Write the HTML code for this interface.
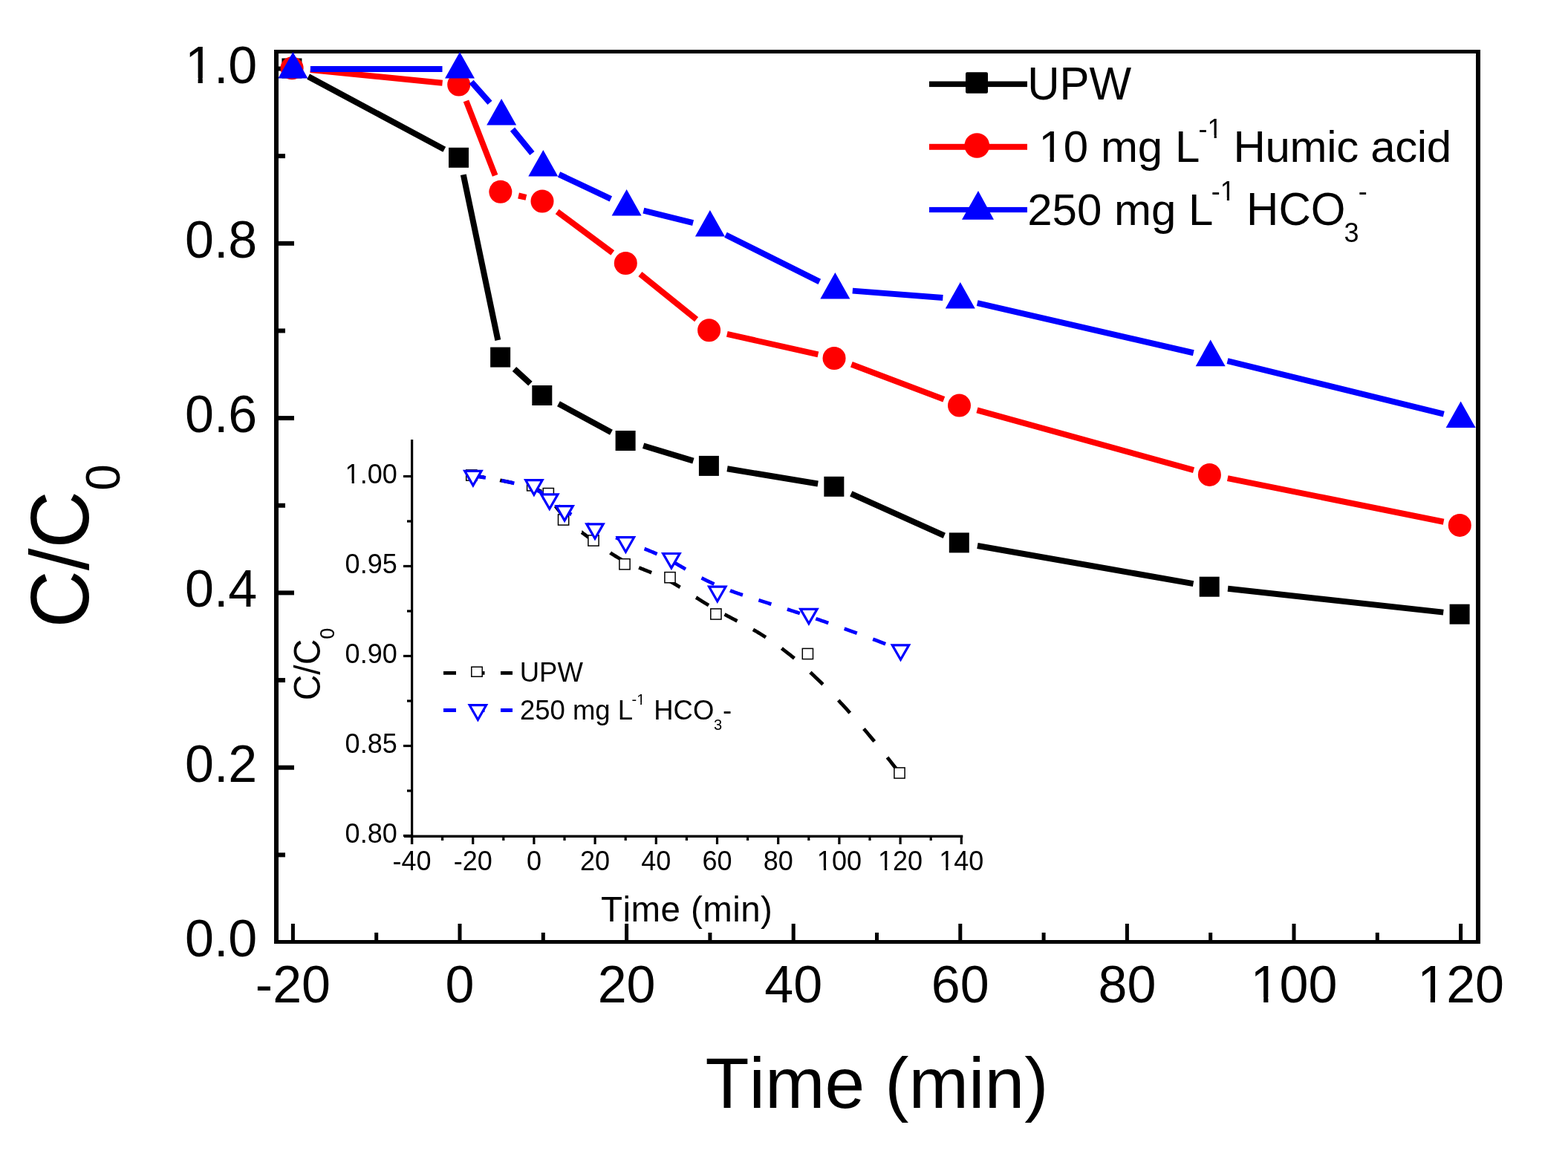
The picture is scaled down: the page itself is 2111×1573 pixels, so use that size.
<!DOCTYPE html>
<html><head><meta charset="utf-8"><title>C/C0 vs Time</title>
<style>html,body{margin:0;padding:0;background:#fff;}svg{display:block;}text{font-family:"Liberation Sans", Arial, sans-serif;fill:#000;font-kerning:none;font-feature-settings:"kern" 0;}</style>
</head><body>
<svg width="2111" height="1573" viewBox="0 0 2111 1573">
<rect width="2111" height="1573" fill="#fff"/>
<rect x="369" y="67" width="1624" height="5" fill="#000"/>
<rect x="369" y="1266" width="1624" height="5" fill="#000"/>
<rect x="369" y="67" width="6" height="1204" fill="#000"/>
<rect x="1987" y="67" width="6" height="1204" fill="#000"/>
<rect x="391.90" y="1244" width="5" height="22" fill="#000"/>
<text transform="translate(394.40,1349.50)" font-size="70.00" text-anchor="middle">-20</text>
<rect x="504.20" y="1256" width="5" height="10" fill="#000"/>
<rect x="616.50" y="1244" width="5" height="22" fill="#000"/>
<text transform="translate(619.00,1349.50)" font-size="70.00" text-anchor="middle">0</text>
<rect x="728.80" y="1256" width="5" height="10" fill="#000"/>
<rect x="841.10" y="1244" width="5" height="22" fill="#000"/>
<text transform="translate(843.60,1349.50)" font-size="70.00" text-anchor="middle">20</text>
<rect x="953.40" y="1256" width="5" height="10" fill="#000"/>
<rect x="1065.70" y="1244" width="5" height="22" fill="#000"/>
<text transform="translate(1068.20,1349.50)" font-size="70.00" text-anchor="middle">40</text>
<rect x="1178.00" y="1256" width="5" height="10" fill="#000"/>
<rect x="1290.30" y="1244" width="5" height="22" fill="#000"/>
<text transform="translate(1292.80,1349.50)" font-size="70.00" text-anchor="middle">60</text>
<rect x="1402.60" y="1256" width="5" height="10" fill="#000"/>
<rect x="1514.90" y="1244" width="5" height="22" fill="#000"/>
<text transform="translate(1517.40,1349.50)" font-size="70.00" text-anchor="middle">80</text>
<rect x="1627.20" y="1256" width="5" height="10" fill="#000"/>
<rect x="1739.50" y="1244" width="5" height="22" fill="#000"/>
<text transform="translate(1742.00,1349.50)" font-size="70.00" text-anchor="middle">100</text>
<rect x="1687.39" y="1343.07" width="13.82" height="7.43" fill="#fff"/>
<rect x="1707.39" y="1343.07" width="13.27" height="7.43" fill="#fff"/>
<rect x="1851.80" y="1256" width="5" height="10" fill="#000"/>
<rect x="1964.10" y="1244" width="5" height="22" fill="#000"/>
<text transform="translate(1966.60,1349.50)" font-size="70.00" text-anchor="middle">120</text>
<rect x="1911.99" y="1343.07" width="13.82" height="7.43" fill="#fff"/>
<rect x="1931.99" y="1343.07" width="13.27" height="7.43" fill="#fff"/>
<text transform="translate(346.30,1288.00)" font-size="70.00" text-anchor="end">0.0</text>
<rect x="375" y="1148.35" width="9" height="6" fill="#000"/>
<rect x="375" y="1030.70" width="21" height="6" fill="#000"/>
<text transform="translate(346.30,1052.70)" font-size="70.00" text-anchor="end">0.2</text>
<rect x="375" y="913.05" width="9" height="6" fill="#000"/>
<rect x="375" y="795.40" width="21" height="6" fill="#000"/>
<text transform="translate(346.30,817.40)" font-size="70.00" text-anchor="end">0.4</text>
<rect x="375" y="677.75" width="9" height="6" fill="#000"/>
<rect x="375" y="560.10" width="21" height="6" fill="#000"/>
<text transform="translate(346.30,582.10)" font-size="70.00" text-anchor="end">0.6</text>
<rect x="375" y="442.45" width="9" height="6" fill="#000"/>
<rect x="375" y="324.80" width="21" height="6" fill="#000"/>
<text transform="translate(346.30,346.80)" font-size="70.00" text-anchor="end">0.8</text>
<rect x="375" y="207.15" width="9" height="6" fill="#000"/>
<rect x="375" y="89.50" width="21" height="6" fill="#000"/>
<text transform="translate(346.30,111.50)" font-size="70.00" text-anchor="end">1.0</text>
<rect x="252.78" y="105.07" width="13.82" height="7.43" fill="#fff"/>
<rect x="272.78" y="105.07" width="13.27" height="7.43" fill="#fff"/>
<text transform="translate(949.50,1492.00)" font-size="96.70">Time (min)</text>
<text transform="translate(118.50,845.60) rotate(-90) scale(0.9606,1)" font-size="111.39">C/C</text>
<text transform="translate(161.10,660.80) rotate(-90)" font-size="64.00">0</text>
<path d="M415.12 103.10L598.28 201.20M623.81 235.30L670.34 458.10M692.48 496.97L713.97 516.63M751.95 543.72L822.95 582.28M866.10 600.29L933.40 620.61M979.08 631.24L1101.17 651.46M1145.79 664.92L1271.36 721.28M1315.94 734.97L1606.56 786.13M1653.06 792.77L1943.24 824.63" stroke="#000" stroke-width="8" fill="none"/>
<rect x="379.40" y="78.50" width="27" height="27" fill="#000"/>
<rect x="604.00" y="198.80" width="27" height="27" fill="#000"/>
<rect x="660.15" y="467.60" width="27" height="27" fill="#000"/>
<rect x="716.30" y="519.00" width="27" height="27" fill="#000"/>
<rect x="828.60" y="580.00" width="27" height="27" fill="#000"/>
<rect x="940.90" y="613.90" width="27" height="27" fill="#000"/>
<rect x="1109.35" y="641.80" width="27" height="27" fill="#000"/>
<rect x="1277.80" y="717.40" width="27" height="27" fill="#000"/>
<rect x="1614.70" y="776.70" width="27" height="27" fill="#000"/>
<rect x="1951.60" y="813.70" width="27" height="27" fill="#000"/>
<path d="M417.79 94.11L595.61 111.69M627.52 135.90L666.63 236.40M698.07 263.48L708.38 265.82M750.16 285.02L824.74 340.48M861.91 369.23L937.59 430.07M978.83 449.93L1101.42 477.37M1146.34 490.80L1270.81 537.80M1315.45 552.37L1607.05 633.13M1652.74 644.05L1943.56 702.75" stroke="#f00" stroke-width="8" fill="none"/>
<circle cx="393.10" cy="91.80" r="15.5" fill="#f00"/>
<circle cx="617.70" cy="114.00" r="15.5" fill="#f00"/>
<circle cx="673.85" cy="258.30" r="15.5" fill="#f00"/>
<circle cx="730.00" cy="271.00" r="15.5" fill="#f00"/>
<circle cx="842.30" cy="354.50" r="15.5" fill="#f00"/>
<circle cx="954.60" cy="444.80" r="15.5" fill="#f00"/>
<circle cx="1123.05" cy="482.50" r="15.5" fill="#f00"/>
<circle cx="1291.50" cy="546.10" r="15.5" fill="#f00"/>
<circle cx="1628.40" cy="639.40" r="15.5" fill="#f00"/>
<circle cx="1965.30" cy="707.40" r="15.5" fill="#f00"/>
<path d="M417.90 92.90L595.50 92.90M634.64 110.44L659.51 138.36M690.00 174.12L716.45 206.58M752.54 234.85L822.36 267.85M866.41 283.57L933.09 300.13M976.93 316.29L1103.32 379.31M1147.78 391.62L1269.37 401.08M1315.70 408.17L1606.80 475.23M1652.52 486.11L1943.78 557.69" stroke="#00f" stroke-width="8" fill="none"/>
<path d="M394.40 70.00L414.40 105.60L374.40 105.60Z" fill="#00f"/>
<path d="M619.00 70.00L639.00 105.60L599.00 105.60Z" fill="#00f"/>
<path d="M675.15 133.00L695.15 168.60L655.15 168.60Z" fill="#00f"/>
<path d="M731.30 201.90L751.30 237.50L711.30 237.50Z" fill="#00f"/>
<path d="M843.60 255.00L863.60 290.60L823.60 290.60Z" fill="#00f"/>
<path d="M955.90 282.90L975.90 318.50L935.90 318.50Z" fill="#00f"/>
<path d="M1124.35 366.90L1144.35 402.50L1104.35 402.50Z" fill="#00f"/>
<path d="M1292.80 380.00L1312.80 415.60L1272.80 415.60Z" fill="#00f"/>
<path d="M1629.70 457.60L1649.70 493.20L1609.70 493.20Z" fill="#00f"/>
<path d="M1966.60 540.40L1986.60 576.00L1946.60 576.00Z" fill="#00f"/>
<rect x="1251" y="109.50" width="132" height="7.6" fill="#000"/>
<rect x="1300" y="97.2" width="30" height="28.6" rx="2" fill="#000"/>
<rect x="1251" y="193.80" width="132" height="8" fill="#f00"/>
<circle cx="1315.30" cy="196.00" r="16.8" fill="#f00"/>
<rect x="1251" y="278.90" width="132" height="7.2" fill="#00f"/>
<path d="M1317 257L1338 295.8L1295 295.8Z" fill="#00f"/>
<text transform="translate(1383.20,134.00) scale(0.9662,1)" font-size="62.10">UPW</text>
<text transform="translate(1381.80,218.00)" font-size="60.00">&#160;10 mg L</text>
<rect x="1401.57" y="212.32" width="11.99" height="6.68" fill="#fff"/>
<rect x="1418.86" y="212.32" width="11.52" height="6.68" fill="#fff"/>
<text transform="translate(1613.60,186.00)" font-size="36.00">-1</text>
<rect x="1627.05" y="182.11" width="7.59" height="4.89" fill="#fff"/>
<rect x="1637.82" y="182.11" width="7.31" height="4.89" fill="#fff"/>
<text transform="translate(1644.30,218.00)" font-size="60.00" letter-spacing="-0.36">&#160;Humic acid</text>
<text transform="translate(1383.20,303.00)" font-size="60.00">250 mg L</text>
<text transform="translate(1630.80,270.00)" font-size="36.00">-1</text>
<rect x="1644.25" y="266.11" width="7.59" height="4.89" fill="#fff"/>
<rect x="1655.02" y="266.11" width="7.31" height="4.89" fill="#fff"/>
<text transform="translate(1661.40,303.00) scale(0.9662,1)" font-size="62.10">&#160;HCO</text>
<text transform="translate(1809.40,325.50)" font-size="36.00">3</text>
<text transform="translate(1828.70,270.00)" font-size="36.00">-</text>
<rect x="553" y="592" width="3.2" height="545" fill="#000"/>
<rect x="544" y="1124.6" width="752.3" height="3.4" fill="#000"/>
<rect x="552.90" y="1128" width="3.2" height="9" fill="#000"/>
<text transform="translate(554.50,1171.60)" font-size="36.00" text-anchor="middle">-40</text>
<rect x="594.00" y="1128" width="3.2" height="4" fill="#000"/>
<rect x="635.10" y="1128" width="3.2" height="9" fill="#000"/>
<text transform="translate(636.70,1171.60)" font-size="36.00" text-anchor="middle">-20</text>
<rect x="676.20" y="1128" width="3.2" height="4" fill="#000"/>
<rect x="717.30" y="1128" width="3.2" height="9" fill="#000"/>
<text transform="translate(718.90,1171.60)" font-size="36.00" text-anchor="middle">0</text>
<rect x="758.40" y="1128" width="3.2" height="4" fill="#000"/>
<rect x="799.50" y="1128" width="3.2" height="9" fill="#000"/>
<text transform="translate(801.10,1171.60)" font-size="36.00" text-anchor="middle">20</text>
<rect x="840.60" y="1128" width="3.2" height="4" fill="#000"/>
<rect x="881.70" y="1128" width="3.2" height="9" fill="#000"/>
<text transform="translate(883.30,1171.60)" font-size="36.00" text-anchor="middle">40</text>
<rect x="922.80" y="1128" width="3.2" height="4" fill="#000"/>
<rect x="963.90" y="1128" width="3.2" height="9" fill="#000"/>
<text transform="translate(965.50,1171.60)" font-size="36.00" text-anchor="middle">60</text>
<rect x="1005.00" y="1128" width="3.2" height="4" fill="#000"/>
<rect x="1046.10" y="1128" width="3.2" height="9" fill="#000"/>
<text transform="translate(1047.70,1171.60)" font-size="36.00" text-anchor="middle">80</text>
<rect x="1087.20" y="1128" width="3.2" height="4" fill="#000"/>
<rect x="1128.30" y="1128" width="3.2" height="9" fill="#000"/>
<text transform="translate(1129.90,1171.60)" font-size="36.00" text-anchor="middle">100</text>
<rect x="1101.33" y="1167.71" width="7.59" height="4.89" fill="#fff"/>
<rect x="1112.10" y="1167.71" width="7.31" height="4.89" fill="#fff"/>
<rect x="1169.40" y="1128" width="3.2" height="4" fill="#000"/>
<rect x="1210.50" y="1128" width="3.2" height="9" fill="#000"/>
<text transform="translate(1212.10,1171.60)" font-size="36.00" text-anchor="middle">120</text>
<rect x="1183.53" y="1167.71" width="7.59" height="4.89" fill="#fff"/>
<rect x="1194.30" y="1167.71" width="7.31" height="4.89" fill="#fff"/>
<rect x="1251.60" y="1128" width="3.2" height="4" fill="#000"/>
<rect x="1292.70" y="1128" width="3.2" height="9" fill="#000"/>
<text transform="translate(1294.30,1171.60)" font-size="36.00" text-anchor="middle">140</text>
<rect x="1265.73" y="1167.71" width="7.59" height="4.89" fill="#fff"/>
<rect x="1276.50" y="1167.71" width="7.31" height="4.89" fill="#fff"/>
<rect x="543" y="1123.90" width="10" height="3.2" fill="#000"/>
<text transform="translate(534.70,1135.00)" font-size="36.00" text-anchor="end">0.80</text>
<rect x="548" y="1063.40" width="5" height="3.2" fill="#000"/>
<rect x="543" y="1002.90" width="10" height="3.2" fill="#000"/>
<text transform="translate(534.70,1014.00)" font-size="36.00" text-anchor="end">0.85</text>
<rect x="548" y="942.40" width="5" height="3.2" fill="#000"/>
<rect x="543" y="881.90" width="10" height="3.2" fill="#000"/>
<text transform="translate(534.70,893.00)" font-size="36.00" text-anchor="end">0.90</text>
<rect x="548" y="821.40" width="5" height="3.2" fill="#000"/>
<rect x="543" y="760.90" width="10" height="3.2" fill="#000"/>
<text transform="translate(534.70,772.00)" font-size="36.00" text-anchor="end">0.95</text>
<rect x="548" y="700.40" width="5" height="3.2" fill="#000"/>
<rect x="543" y="639.90" width="10" height="3.2" fill="#000"/>
<text transform="translate(534.70,651.00)" font-size="36.00" text-anchor="end">1.00</text>
<rect x="466.09" y="647.11" width="7.59" height="4.89" fill="#fff"/>
<rect x="476.87" y="647.11" width="7.31" height="4.89" fill="#fff"/>
<text transform="translate(809.10,1240.70)" font-size="47.50" letter-spacing="0.42">Time (min)</text>
<text transform="translate(431.30,943.30) rotate(-90) scale(0.9709,1)" font-size="49.44">C/C</text>
<text transform="translate(449.50,860.80) rotate(-90)" font-size="27.00">0</text>
<path d="M634.80 640.00L635.09 640.05L637.36 640.43L639.59 640.81L641.79 641.19L643.95 641.56L646.07 641.92L648.16 642.29L650.22 642.65L651.80 642.92M673.25 646.84L673.28 646.85L674.89 647.16L676.47 647.46L678.01 647.77L679.54 648.07L681.03 648.36L682.49 648.66L683.92 648.95L685.33 649.23L686.71 649.52L688.06 649.80L689.38 650.08L690.25 650.27M711.70 655.48L711.70 655.48L712.51 655.72L713.30 655.95L714.06 656.18L714.81 656.41L715.55 656.64L716.26 656.87L716.95 657.09L717.63 657.32L718.29 657.54L718.94 657.77L719.57 657.99L720.18 658.21L720.78 658.43L721.36 658.65L721.93 658.87L722.48 659.09L723.02 659.31L723.54 659.53L724.05 659.74L724.55 659.96L725.04 660.18L725.51 660.39L725.97 660.61L726.42 660.83L726.85 661.04L727.28 661.26L727.69 661.48L728.10 661.69L728.49 661.91L728.70 662.03M747.95 681.66L747.97 681.70L748.20 682.00L748.43 682.29L748.65 682.59L748.88 682.89L749.11 683.19L749.34 683.49L749.56 683.80L749.79 684.10L750.02 684.40L750.25 684.70L750.48 685.00L750.71 685.31L750.95 685.61L751.18 685.91L751.41 686.22L751.64 686.52L751.88 686.83L752.11 687.13L752.35 687.44L752.59 687.74L752.82 688.05L753.06 688.35L753.30 688.66L753.54 688.96L753.78 689.27L754.02 689.57L754.27 689.88L754.51 690.18L754.75 690.49L755.00 690.79L755.25 691.10L755.49 691.40L755.74 691.71L755.99 692.01L756.24 692.32L756.50 692.62L756.75 692.93L757.00 693.23L757.26 693.54L757.52 693.84L757.78 694.14L758.04 694.45L758.30 694.75L758.56 695.05L758.83 695.35L759.09 695.66L759.36 695.96L759.63 696.26L759.90 696.56L760.17 696.86L760.44 697.16L760.72 697.46L760.99 697.75L761.27 698.05L761.55 698.35L761.83 698.65L761.85 698.66M783.26 716.97L783.27 716.97L783.63 717.25L784.00 717.52L784.37 717.79L784.73 718.07L785.10 718.34L785.47 718.61L785.84 718.89L786.21 719.16L786.58 719.43L786.96 719.71L787.33 719.98L787.70 720.25L788.07 720.53L788.45 720.80L788.82 721.07L789.20 721.35L789.57 721.62L789.95 721.89L790.33 722.17L790.71 722.44L791.08 722.71L791.46 722.99L791.84 723.26L792.22 723.54L792.60 723.81L792.98 724.09L793.36 724.36L793.74 724.64L794.12 724.91L794.50 725.19L794.88 725.46L795.27 725.74L795.65 726.02L796.03 726.29L796.42 726.57L796.80 726.85L797.18 727.12L797.57 727.40L797.95 727.68L798.33 727.96L798.72 728.24L799.10 728.51L799.49 728.79L799.87 729.07L800.26 729.35L800.26 729.36M821.71 744.54L821.72 744.55L822.14 744.82L822.55 745.10L822.97 745.37L823.39 745.65L823.81 745.92L824.23 746.19L824.65 746.46L825.07 746.73L825.50 747.00L825.92 747.27L826.35 747.54L826.78 747.81L827.20 748.08L827.63 748.34L828.06 748.61L828.49 748.87L828.93 749.14L829.36 749.40L829.80 749.67L830.23 749.93L830.67 750.19L831.11 750.45L831.55 750.71L831.99 750.97L832.43 751.23L832.88 751.49L833.32 751.74L833.77 752.00L834.22 752.25L834.66 752.51L835.12 752.76L835.57 753.01L836.02 753.27L836.47 753.52L836.93 753.77L837.39 754.01L837.85 754.26L838.31 754.51L838.71 754.72M860.16 764.42L860.21 764.44L860.74 764.66L861.27 764.87L861.79 765.08L862.32 765.29L862.86 765.51L863.39 765.72L863.92 765.93L864.46 766.14L864.99 766.36L865.53 766.57L866.06 766.78L866.60 767.00L867.14 767.21L867.68 767.43L868.22 767.64L868.77 767.86L869.31 768.07L869.86 768.29L870.40 768.51L870.95 768.73L871.49 768.95L872.04 769.17L872.59 769.39L873.14 769.61L873.69 769.83L874.24 770.05L874.79 770.28L875.35 770.50L875.90 770.73L876.46 770.95L877.01 771.18L877.16 771.24M898.61 781.05L898.66 781.07L899.23 781.37L899.81 781.67L900.38 781.98L900.95 782.28L901.53 782.59L902.10 782.91L902.67 783.22L903.25 783.54L903.82 783.86L904.39 784.18L904.97 784.51L905.54 784.83L906.12 785.17L906.70 785.50L907.28 785.84L907.85 786.18L908.43 786.52L909.01 786.86L909.60 787.21L910.18 787.56L910.77 787.91L911.35 788.27L911.94 788.63L912.53 788.99L913.12 789.35L913.72 789.72L914.31 790.09L914.91 790.46L915.51 790.84L915.61 790.90M937.06 804.62L937.15 804.67L937.88 805.14L938.62 805.61L939.37 806.08L940.12 806.56L940.88 807.04L941.65 807.52L942.42 808.00L943.20 808.49L943.98 808.97L944.77 809.47L945.57 809.96L946.38 810.46L947.19 810.96L948.00 811.46L948.83 811.96L949.66 812.47L950.50 812.98L951.35 813.49L952.20 814.01L953.06 814.53L953.93 815.05L954.06 815.13M975.51 827.38L975.59 827.42L976.66 828.00L977.75 828.59L978.84 829.18L979.95 829.77L981.07 830.37L982.19 830.97L983.33 831.57L984.48 832.17L985.64 832.78L986.81 833.38L987.99 834.00L989.18 834.62L990.39 835.24L991.60 835.87L992.51 836.34M1013.96 847.89L1014.08 847.96L1015.54 848.80L1017.02 849.66L1018.51 850.53L1020.01 851.43L1021.54 852.34L1023.08 853.27L1024.63 854.23L1026.21 855.20L1027.80 856.20L1029.40 857.22L1030.96 858.22M1052.41 873.19L1052.42 873.20L1054.29 874.61L1056.18 876.05L1058.10 877.53L1060.03 879.04L1061.99 880.59L1063.97 882.17L1065.96 883.79L1067.98 885.44L1069.41 886.62M1090.86 905.42L1091.10 905.64L1093.39 907.76L1095.70 909.93L1098.03 912.14L1100.39 914.39L1102.78 916.69L1105.19 919.04L1107.62 921.44L1107.86 921.68M1128.71 943.11L1129.01 943.44L1131.69 946.31L1134.40 949.23L1137.13 952.21L1139.89 955.24L1142.68 958.33L1144.28 960.11M1163.01 981.56L1163.36 981.98L1166.38 985.54L1169.43 989.17L1172.51 992.85L1175.62 996.60L1177.24 998.56M1194.59 1020.01L1194.92 1020.43L1198.25 1024.63L1201.60 1028.90L1204.99 1033.24L1207.92 1037.01" stroke="#000" stroke-width="4.8" fill="none"/>
<rect x="627.70" y="632.90" width="14.2" height="14.2" fill="#fff" stroke="#000" stroke-width="1.5"/>
<rect x="709.60" y="646.70" width="14.2" height="14.2" fill="#fff" stroke="#000" stroke-width="1.5"/>
<rect x="731.20" y="657.50" width="14.2" height="14.2" fill="#fff" stroke="#000" stroke-width="1.5"/>
<rect x="751.50" y="692.90" width="14.2" height="14.2" fill="#fff" stroke="#000" stroke-width="1.5"/>
<rect x="791.90" y="720.90" width="14.2" height="14.2" fill="#fff" stroke="#000" stroke-width="1.5"/>
<rect x="833.90" y="752.70" width="14.2" height="14.2" fill="#fff" stroke="#000" stroke-width="1.5"/>
<rect x="894.90" y="770.60" width="14.2" height="14.2" fill="#fff" stroke="#000" stroke-width="1.5"/>
<rect x="956.80" y="819.90" width="14.2" height="14.2" fill="#fff" stroke="#000" stroke-width="1.5"/>
<rect x="1080.30" y="873.40" width="14.2" height="14.2" fill="#fff" stroke="#000" stroke-width="1.5"/>
<rect x="1203.90" y="1033.90" width="14.2" height="14.2" fill="#fff" stroke="#000" stroke-width="1.5"/>
<path d="M636.90 640.70L637.19 640.74L639.46 641.09L641.70 641.43L643.89 641.77L646.06 642.11L648.18 642.45L650.27 642.78L652.33 643.12L653.90 643.38M675.35 647.22L675.39 647.23L677.00 647.54L678.58 647.86L680.12 648.17L681.64 648.48L683.13 648.79L684.59 649.10L686.02 649.41L687.43 649.71L688.80 650.02L690.15 650.32L691.47 650.63L692.35 650.83M713.80 656.77L713.80 656.77L714.60 657.04L715.38 657.31L716.14 657.58L716.88 657.85L717.61 658.12L718.31 658.39L719.00 658.65L719.67 658.92L720.32 659.18L720.96 659.44L721.58 659.70L722.19 659.96L722.78 660.22L723.35 660.47L723.91 660.73L724.45 660.98L724.98 661.24L725.50 661.49L726.00 661.74L726.49 661.99L726.97 662.23L727.44 662.48L727.89 662.73L728.33 662.97L728.76 663.21L729.17 663.46L729.58 663.70L729.98 663.94L730.36 664.17L730.74 664.41L730.80 664.45M752.25 681.49L752.27 681.50L752.50 681.68L752.74 681.85L752.97 682.02L753.20 682.19L753.44 682.36L753.67 682.53L753.91 682.70L754.15 682.88L754.38 683.05L754.62 683.22L754.86 683.39L755.10 683.56L755.35 683.74L755.59 683.91L755.83 684.08L756.08 684.25L756.32 684.43L756.57 684.60L756.82 684.77L757.07 684.95L757.32 685.12L757.57 685.30L757.82 685.47L758.07 685.65L758.33 685.82L758.58 686.00L758.84 686.18L759.10 686.35L759.36 686.53L759.62 686.71L759.89 686.89L760.15 687.07L760.42 687.25L760.69 687.43L760.96 687.61L761.23 687.79L761.50 687.97L761.77 688.15L762.05 688.34L762.33 688.52L762.60 688.71L762.89 688.89L763.17 689.08L763.45 689.26L763.74 689.45L764.03 689.64L764.32 689.83L764.61 690.02L764.90 690.21L765.19 690.40L765.49 690.59L765.79 690.78L766.09 690.97L766.39 691.17L766.69 691.36L767.00 691.56L767.30 691.75L767.61 691.95L767.92 692.14L768.23 692.34L768.54 692.54L768.86 692.74L769.17 692.94L769.25 692.98M790.70 705.60L790.72 705.61L791.09 705.82L791.47 706.02L791.85 706.23L792.23 706.44L792.61 706.64L792.98 706.85L793.36 707.05L793.74 707.26L794.13 707.46L794.51 707.67L794.89 707.87L795.27 708.08L795.65 708.28L796.03 708.48L796.41 708.69L796.80 708.89L797.18 709.09L797.56 709.29L797.95 709.49L798.33 709.69L798.71 709.89L799.10 710.09L799.48 710.29L799.86 710.49L800.25 710.69L800.63 710.88L801.01 711.08L801.40 711.28L801.78 711.47L802.17 711.67L802.55 711.86L802.94 712.06L803.32 712.25L803.71 712.44L804.09 712.64L804.47 712.83L804.86 713.02L805.25 713.21L805.63 713.40L806.02 713.59L806.40 713.78L806.79 713.97L807.18 714.16L807.56 714.35L807.70 714.41M829.15 724.04L829.18 724.05L829.60 724.23L830.03 724.41L830.46 724.58L830.89 724.76L831.32 724.94L831.76 725.12L832.19 725.30L832.63 725.47L833.07 725.65L833.50 725.83L833.94 726.01L834.38 726.19L834.83 726.37L835.27 726.55L835.72 726.72L836.16 726.90L836.61 727.08L837.06 727.26L837.51 727.44L837.96 727.62L838.42 727.80L838.87 727.98L839.33 728.16L839.79 728.35L840.25 728.53L840.71 728.71L841.17 728.89L841.64 729.07L842.10 729.25L842.57 729.44L843.04 729.62L843.51 729.80L843.99 729.99L844.46 730.17L844.94 730.35L845.42 730.54L845.90 730.72L846.15 730.82M867.60 739.06L867.63 739.07L868.17 739.28L868.71 739.50L869.26 739.72L869.80 739.93L870.35 740.15L870.89 740.37L871.44 740.59L871.99 740.81L872.54 741.04L873.09 741.26L873.64 741.48L874.19 741.71L874.74 741.94L875.29 742.17L875.85 742.40L876.40 742.63L876.96 742.86L877.51 743.09L878.07 743.33L878.63 743.56L879.19 743.80L879.75 744.04L880.31 744.28L880.87 744.52L881.43 744.77L881.99 745.01L882.56 745.26L883.12 745.50L883.68 745.75L884.25 746.00L884.60 746.16M906.05 756.75L906.08 756.77L906.65 757.08L907.23 757.40L907.81 757.73L908.39 758.05L908.97 758.38L909.55 758.71L910.13 759.03L910.71 759.37L911.29 759.70L911.88 760.03L912.47 760.37L913.05 760.71L913.64 761.05L914.23 761.39L914.83 761.74L915.42 762.08L916.02 762.43L916.62 762.78L917.22 763.13L917.82 763.48L918.43 763.83L919.04 764.19L919.65 764.54L920.26 764.90L920.88 765.26L921.50 765.62L922.12 765.98L922.74 766.35L923.05 766.52M944.50 778.39L944.59 778.43L945.37 778.83L946.15 779.23L946.94 779.63L947.74 780.04L948.55 780.44L949.36 780.84L950.18 781.25L951.01 781.65L951.84 782.06L952.68 782.47L953.53 782.88L954.39 783.28L955.25 783.69L956.12 784.10L957.00 784.51L957.89 784.92L958.78 785.34L959.68 785.75L960.59 786.16L961.50 786.57M982.95 795.35L983.01 795.38L984.14 795.80L985.28 796.22L986.42 796.63L987.58 797.05L988.75 797.47L989.93 797.89L991.12 798.31L992.32 798.74L993.54 799.16L994.76 799.58L996.00 800.01L997.25 800.43L998.51 800.86L999.79 801.29L999.95 801.34M1021.40 808.29L1021.54 808.33L1023.05 808.81L1024.59 809.30L1026.14 809.79L1027.71 810.28L1029.29 810.78L1030.89 811.29L1032.51 811.80L1034.15 812.32L1035.80 812.84L1037.47 813.37L1038.40 813.66M1059.85 820.49L1059.97 820.53L1061.90 821.15L1063.85 821.78L1065.83 822.42L1067.83 823.07L1069.85 823.72L1071.89 824.39L1073.95 825.06L1076.03 825.75L1076.85 826.02M1098.30 833.18L1098.43 833.23L1100.78 834.02L1103.14 834.83L1105.54 835.65L1107.96 836.48L1110.40 837.33L1112.87 838.18L1115.30 839.03M1136.75 846.61L1136.95 846.68L1139.69 847.66L1142.46 848.66L1145.25 849.67L1148.08 850.70L1150.93 851.74L1153.75 852.77M1175.20 860.75L1175.57 860.89L1178.69 862.07L1181.85 863.26L1185.03 864.48L1188.25 865.70L1191.50 866.95L1192.20 867.22" stroke="#00f" stroke-width="4.8" fill="none"/>
<path d="M625.70 634.40L648.10 634.40L636.90 653.90Z" fill="#fff" stroke="#00f" stroke-width="3.2" stroke-linejoin="miter"/>
<path d="M707.70 646.70L730.10 646.70L718.90 666.20Z" fill="#fff" stroke="#00f" stroke-width="3.2" stroke-linejoin="miter"/>
<path d="M728.60 665.80L751.00 665.80L739.80 685.30Z" fill="#fff" stroke="#00f" stroke-width="3.2" stroke-linejoin="miter"/>
<path d="M748.90 681.60L771.30 681.60L760.10 701.10Z" fill="#fff" stroke="#00f" stroke-width="3.2" stroke-linejoin="miter"/>
<path d="M789.80 705.90L812.20 705.90L801.00 725.40Z" fill="#fff" stroke="#00f" stroke-width="3.2" stroke-linejoin="miter"/>
<path d="M831.20 723.70L853.60 723.70L842.40 743.20Z" fill="#fff" stroke="#00f" stroke-width="3.2" stroke-linejoin="miter"/>
<path d="M892.70 745.50L915.10 745.50L903.90 765.00Z" fill="#fff" stroke="#00f" stroke-width="3.2" stroke-linejoin="miter"/>
<path d="M954.60 790.20L977.00 790.20L965.80 809.70Z" fill="#fff" stroke="#00f" stroke-width="3.2" stroke-linejoin="miter"/>
<path d="M1077.70 820.30L1100.10 820.30L1088.90 839.80Z" fill="#fff" stroke="#00f" stroke-width="3.2" stroke-linejoin="miter"/>
<path d="M1201.30 868.80L1223.70 868.80L1212.50 888.30Z" fill="#fff" stroke="#00f" stroke-width="3.2" stroke-linejoin="miter"/>
<path d="M597 906.3H614M635.5 906.3H652.5M674 906.3H690" stroke="#000" stroke-width="4.8"/>
<rect x="634.8" y="898.2" width="14.4" height="13" fill="#fff" stroke="#000" stroke-width="1.5"/>
<text transform="translate(699.70,917.80) scale(0.9709,1)" font-size="37.59">UPW</text>
<path d="M597 956.5H614M635.5 956.5H652.5M674 956.5H690" stroke="#00f" stroke-width="4.8"/>
<path d="M632.20 949.70L654.60 949.70L643.40 969.20Z" fill="#fff" stroke="#00f" stroke-width="3.2" stroke-linejoin="miter"/>
<text transform="translate(699.90,968.80)" font-size="36.50">250 mg L</text>
<text transform="translate(850.50,948.70)" font-size="20.00">-1</text>
<rect x="857.53" y="946.01" width="4.66" height="3.69" fill="#fff"/>
<rect x="863.96" y="946.01" width="4.51" height="3.69" fill="#fff"/>
<text transform="translate(870.10,968.80) scale(0.9709,1)" font-size="37.59">&#160;HCO</text>
<text transform="translate(960.90,982.50)" font-size="20.00">3</text>
<text transform="translate(972.90,968.80)" font-size="36.50">-</text>
</svg>
</body></html>
